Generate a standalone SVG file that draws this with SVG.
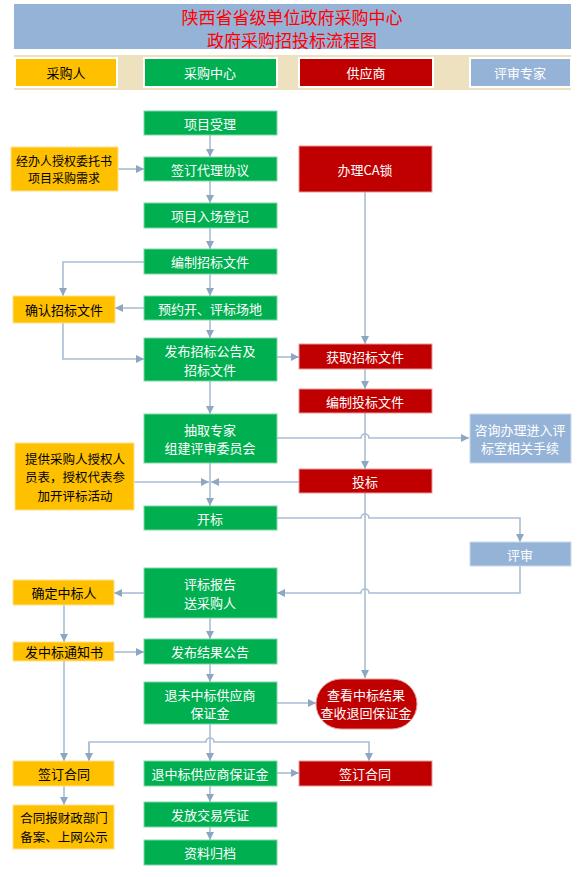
<svg xmlns="http://www.w3.org/2000/svg" width="579" height="877" viewBox="0 0 579 877">
<defs>
<style>
text{font-family:"Noto Sans CJK SC","Noto Sans",sans-serif;font-size:13px;text-anchor:middle;dominant-baseline:central}
.g{fill:#00B050;stroke:#7FD7A7;stroke-width:1}
.y{fill:#FFC000;stroke:#FFE08A;stroke-width:1}
.r{fill:#C00000;stroke:#E89A9A;stroke-width:1}
.b{fill:#95B3D7;stroke:#C9D9EC;stroke-width:1}
.w{fill:#fff}
.k{fill:#000}
.c{fill:none;stroke:#A9BED3;stroke-width:1.6}
.lane{stroke:#fff;stroke-width:2}
</style>
<marker id="a" viewBox="0 0 10 10" refX="10" refY="5" markerWidth="8" markerHeight="8" markerUnits="userSpaceOnUse" orient="auto">
<path d="M0,0 L10,5 L0,10 z" fill="#8DA6C2"/>
</marker>
</defs>
<rect width="579" height="877" fill="#fff"/>
<g id="header">
<rect x="14" y="4" width="557" height="45" fill="#95B3D7"/>
<text x="292" y="16" style="font-size:17px" fill="#FF0000">陕西省省级单位政府采购中心</text>
<text x="292" y="39" style="font-size:17px" fill="#FF0000">政府采购招投标流程图</text>
</g>
<g id="lanes">
<rect x="14" y="55" width="557" height="35" fill="#EEE1C0"/>
<rect class="lane" x="15" y="58" width="102" height="29" fill="#FFC000"/>
<text class="k" x="66" y="72">采购人</text>
<rect class="lane" x="144" y="58" width="133" height="29" fill="#00B050"/>
<text class="w" x="210" y="72">采购中心</text>
<rect class="lane" x="299" y="58" width="134" height="29" fill="#C00000"/>
<text class="w" x="366" y="72">供应商</text>
<rect class="lane" x="470" y="58" width="101" height="29" fill="#95B3D7"/>
<text class="w" x="520" y="72">评审专家</text>
</g>
<g id="connectors">
<path class="c" d="M210,135V157" marker-end="url(#a)"/>
<path class="c" d="M210,181V203" marker-end="url(#a)"/>
<path class="c" d="M210,228V249" marker-end="url(#a)"/>
<path class="c" d="M210,274V296" marker-end="url(#a)"/>
<path class="c" d="M144,262H63V296" marker-end="url(#a)"/>
<path class="c" d="M144,308H115" marker-end="url(#a)"/>
<path class="c" d="M63,323V359H144" marker-end="url(#a)"/>
<path class="c" d="M210,320V338" marker-end="url(#a)"/>
<path class="c" d="M118,169H144" marker-end="url(#a)"/>
<path class="c" d="M277,357H299" marker-end="url(#a)"/>
<path class="c" d="M365,192V344" marker-end="url(#a)"/>
<path class="c" d="M365,369V389" marker-end="url(#a)"/>
<path class="c" d="M365,413V469" marker-end="url(#a)"/>
<path class="c" d="M210,381V414" marker-end="url(#a)"/>
<path class="c" d="M277,438H361A4,4 0 0 1 369,438H469" marker-end="url(#a)"/>
<path class="c" d="M210,463V506" marker-end="url(#a)"/>
<path class="c" d="M134,482H209" marker-end="url(#a)"/>
<path class="c" d="M299,482H211" marker-end="url(#a)"/>
<path class="c" d="M277,518H361A4,4 0 0 1 369,518H520V542" marker-end="url(#a)"/>
<path class="c" d="M520,566V593H369A4,4 0 0 0 361,593H277" marker-end="url(#a)"/>
<path class="c" d="M365,493V678" marker-end="url(#a)"/>
<path class="c" d="M144,593H114" marker-end="url(#a)"/>
<path class="c" d="M64,605V642" marker-end="url(#a)"/>
<path class="c" d="M114,652H144" marker-end="url(#a)"/>
<path class="c" d="M210,618V639" marker-end="url(#a)"/>
<path class="c" d="M210,664V682" marker-end="url(#a)"/>
<path class="c" d="M277,703H316" marker-end="url(#a)"/>
<path class="c" d="M64,661V761" marker-end="url(#a)"/>
<path class="c" d="M210,724V761" marker-end="url(#a)"/>
<path class="c" d="M89,761V742H206A4,4 0 0 1 214,742H369V761" marker-end="url(#a)"/>
<path class="c" d="M89,742V761" marker-end="url(#a)"/>
<path class="c" d="M277,773H299" marker-end="url(#a)"/>
<path class="c" d="M64,786V805" marker-end="url(#a)"/>
<path class="c" d="M210,786V802" marker-end="url(#a)"/>
<path class="c" d="M210,827V840" marker-end="url(#a)"/>
</g>
<g id="n1"><rect class="g" x="144" y="111" width="133" height="24"/><text class="w" x="210" y="123">项目受理</text></g>
<g id="n2"><rect class="g" x="144" y="157" width="133" height="24"/><text class="w" x="210" y="169">签订代理协议</text></g>
<g id="n3"><rect class="y" x="11" y="147" width="107" height="44"/><text class="k" x="64" y="160" style="font-size:12px">经办人授权委托书</text><text class="k" x="64" y="177" style="font-size:12px">项目采购需求</text></g>
<g id="n4"><rect class="r" x="299" y="146" width="133" height="46"/><text class="w" x="365" y="169">办理CA锁</text></g>
<g id="n5"><rect class="g" x="144" y="203" width="133" height="25"/><text class="w" x="210" y="215">项目入场登记</text></g>
<g id="n6"><rect class="g" x="144" y="249" width="133" height="25"/><text class="w" x="210" y="261">编制招标文件</text></g>
<g id="n7"><rect class="y" x="13" y="296" width="102" height="27"/><text class="k" x="64" y="309">确认招标文件</text></g>
<g id="n8"><rect class="g" x="144" y="296" width="133" height="24"/><text class="w" x="210" y="308">预约开、评标场地</text></g>
<g id="n9"><rect class="g" x="144" y="338" width="133" height="43"/><text class="w" x="210" y="350">发布招标公告及</text><text class="w" x="210" y="369">招标文件</text></g>
<g id="n10"><rect class="r" x="299" y="344" width="133" height="25"/><text class="w" x="365" y="356">获取招标文件</text></g>
<g id="n11"><rect class="r" x="299" y="389" width="133" height="24"/><text class="w" x="365" y="401">编制投标文件</text></g>
<g id="n12"><rect class="g" x="144" y="414" width="133" height="49"/><text class="w" x="210" y="429">抽取专家</text><text class="w" x="210" y="447">组建评审委员会</text></g>
<g id="n13"><rect class="b" x="470" y="414" width="101" height="49"/><text class="w" x="520" y="429">咨询办理进入评</text><text class="w" x="520" y="447">标室相关手续</text></g>
<g id="n14"><rect class="y" x="15" y="443" width="119" height="67"/><text class="k" x="75" y="458" style="font-size:12.5px">提供采购人授权人</text><text class="k" x="75" y="476.5" style="font-size:12.5px">员表，授权代表参</text><text class="k" x="75" y="495" style="font-size:12.5px">加开评标活动</text></g>
<g id="n15"><rect class="r" x="299" y="469" width="133" height="24"/><text class="w" x="365" y="481">投标</text></g>
<g id="n16"><rect class="g" x="144" y="506" width="133" height="24"/><text class="w" x="210" y="518">开标</text></g>
<g id="n17"><rect class="b" x="470" y="542" width="101" height="24"/><text class="w" x="520" y="554">评审</text></g>
<g id="n18"><rect class="g" x="144" y="568" width="133" height="50"/><text class="w" x="210" y="583">评标报告</text><text class="w" x="210" y="602">送采购人</text></g>
<g id="n19"><rect class="y" x="13" y="580" width="101" height="25"/><text class="k" x="64" y="592">确定中标人</text></g>
<g id="n20"><rect class="y" x="13" y="642" width="101" height="19"/><text class="k" x="64" y="651">发中标通知书</text></g>
<g id="n21"><rect class="g" x="144" y="639" width="133" height="25"/><text class="w" x="210" y="651">发布结果公告</text></g>
<g id="n22"><rect class="g" x="144" y="682" width="133" height="42"/><text class="w" x="210" y="694">退未中标供应商</text><text class="w" x="210" y="712">保证金</text></g>
<g id="n23"><rect class="r" x="316" y="679" width="101" height="50" rx="25" ry="25" stroke="#F2C4C4"/><text class="w" x="366" y="694">查看中标结果</text><text class="w" x="366" y="712">查收退回保证金</text></g>
<g id="n24"><rect class="y" x="13" y="761" width="101" height="25"/><text class="k" x="64" y="773">签订合同</text></g>
<g id="n25"><rect class="g" x="144" y="761" width="133" height="25"/><text class="w" x="210" y="773">退中标供应商保证金</text></g>
<g id="n26"><rect class="r" x="299" y="761" width="133" height="25"/><text class="w" x="365" y="773">签订合同</text></g>
<g id="n27"><rect class="y" x="13" y="805" width="101" height="44"/><text class="k" x="64" y="817" style="font-size:12.5px">合同报财政部门</text><text class="k" x="64" y="836" style="font-size:12.5px">备案、上网公示</text></g>
<g id="n28"><rect class="g" x="144" y="802" width="133" height="25"/><text class="w" x="210" y="814">发放交易凭证</text></g>
<g id="n29"><rect class="g" x="144" y="840" width="133" height="25"/><text class="w" x="210" y="852">资料归档</text></g>
</svg>
